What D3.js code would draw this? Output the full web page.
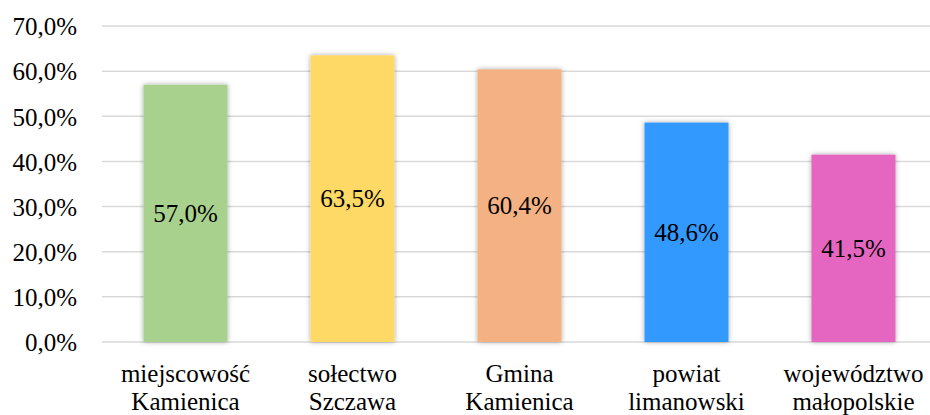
<!DOCTYPE html>
<html>
<head>
<meta charset="utf-8">
<script src="https://cdn.jsdelivr.net/npm/d3@7"></script>
<style>
  body { margin: 0; background: #fff; }
</style>
</head>
<body>
<div id="chart"></div>
<script>
const categories = [
  ["miejscowość", "Kamienica"],
  ["sołectwo", "Szczawa"],
  ["Gmina", "Kamienica"],
  ["powiat", "limanowski"],
  ["województwo", "małopolskie"]
];
const values = [57.0, 63.5, 60.4, 48.6, 41.5];
const colors = ["#A9D18E", "#FFD966", "#F4B183", "#3399FF", "#E566C1"];
const yTicks = [0, 10, 20, 30, 40, 50, 60, 70];

const width = 930, height = 415;
const plotLeft = 102, plotRight = 937, plotTop = 26, plotBottom = 342;
const serif = "Tinos, 'Liberation Serif', 'DejaVu Serif', 'Noto Serif', serif";

const svg = d3.select("#chart").append("svg")
  .attr("width", width)
  .attr("height", height)
  .style("font-family", serif);

const defs = svg.append("defs");
const f = defs.append("filter").attr("id", "shadow")
  .attr("x", "-20%").attr("y", "-20%").attr("width", "140%").attr("height", "140%");
f.append("feDropShadow").attr("dx", 0).attr("dy", 0).attr("stdDeviation", 2.5)
  .attr("flood-color", "#000").attr("flood-opacity", 0.35);

const x = d3.scaleBand()
  .domain(d3.range(values.length))
  .range([plotLeft, plotRight])
  .paddingInner(0.497)
  .paddingOuter(0.2485);

const y = d3.scaleLinear().domain([0, 70]).range([plotBottom, plotTop]);

const fmt = v => v.toFixed(1).replace(".", ",") + "%";

// gridlines
svg.append("g").selectAll("line")
  .data(yTicks)
  .enter().append("line")
  .attr("x1", plotLeft).attr("x2", width)
  .attr("y1", d => y(d)).attr("y2", d => y(d))
  .attr("stroke", "#d9d9d9")
  .attr("stroke-width", 1.5);

// y axis labels
const yAxis = d3.axisLeft(y).tickValues(yTicks).tickFormat(d => fmt(d)).tickSize(0).tickPadding(0);
svg.append("g")
  .attr("transform", `translate(77,0)`)
  .call(yAxis)
  .attr("font-family", null)
  .attr("font-size", null)
  .call(g => g.select(".domain").remove())
  .selectAll("text")
  .style("font-family", serif)
  .style("font-size", "25px")
  .attr("fill", "#000")
  .attr("dy", "0.35em");

// bars
svg.append("g").selectAll("rect")
  .data(values)
  .enter().append("rect")
  .attr("x", (d, i) => x(i))
  .attr("width", x.bandwidth())
  .attr("y", d => y(d))
  .attr("height", d => plotBottom - y(d))
  .attr("fill", (d, i) => colors[i])
  .attr("filter", "url(#shadow)");

// value labels
svg.append("g").selectAll("text")
  .data(values)
  .enter().append("text")
  .attr("x", (d, i) => x(i) + x.bandwidth() / 2)
  .attr("y", d => (y(d) + plotBottom) / 2)
  .attr("dy", "0.35em")
  .attr("text-anchor", "middle")
  .style("font-family", serif)
  .style("font-size", "25px")
  .text(d => fmt(d));

// category labels
const cat = svg.append("g").selectAll("text")
  .data(categories)
  .enter().append("text")
  .attr("text-anchor", "middle")
  .style("font-family", serif)
  .style("font-size", "25px")
  .attr("x", (d, i) => x(i) + x.bandwidth() / 2);
cat.selectAll("tspan")
  .data(d => d)
  .enter().append("tspan")
  .attr("x", function() { return d3.select(this.parentNode).attr("x"); })
  .attr("y", (d, j) => 382 + j * 28)
  .text(d => d);
</script>
</body>
</html>
